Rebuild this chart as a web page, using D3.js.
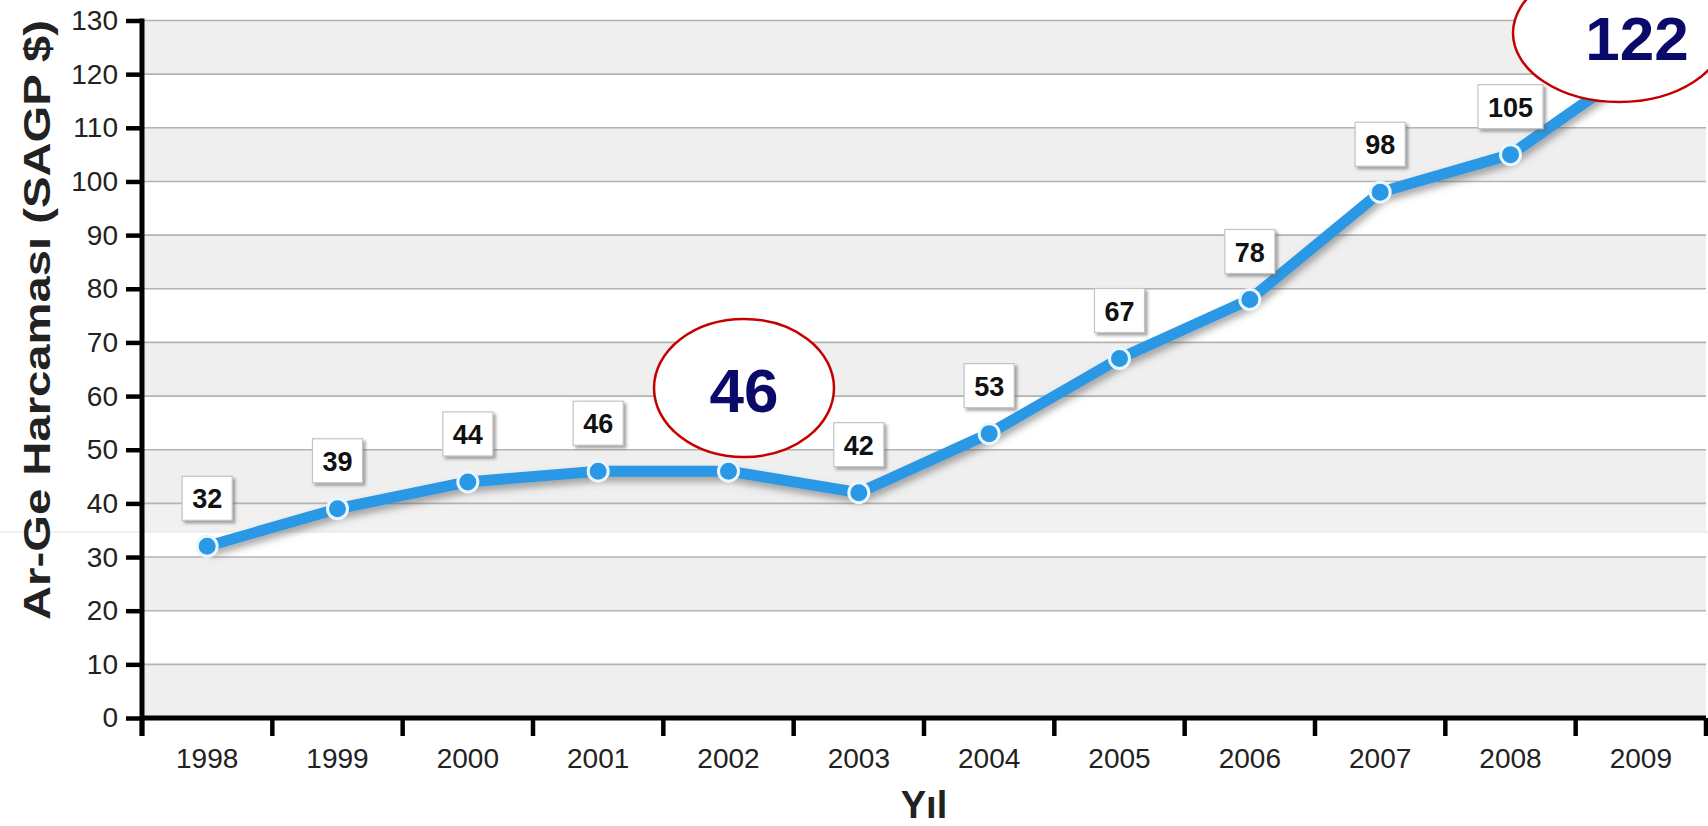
<!DOCTYPE html>
<html>
<head>
<meta charset="utf-8">
<script src="https://cdn.jsdelivr.net/npm/d3@7"></script>
<style>
  html, body { margin: 0; padding: 0; background: #fff; }
  svg { display: block; font-family: "Liberation Sans", Arial, sans-serif; }
</style>
</head>
<body>
<svg id="chart" width="1708" height="826"></svg>
<script>
// R&D spending per year (PPP $)
const years  = ["1998","1999","2000","2001","2002","2003","2004","2005","2006","2007","2008","2009"];
const values = [32, 39, 44, 46, 46, 42, 53, 67, 78, 98, 105, 122];
const yTicks = [0,10,20,30,40,50,60,70,80,90,100,110,120,130];
// years called out with a large oval instead of a small box
const highlighted = ["2002", "2009"];

const svg = d3.select("#chart");
const W = 1708, H = 826;

const x = d3.scaleBand().domain(years).range([142, 1706]).paddingInner(0).paddingOuter(0);
const y = d3.scaleLinear().domain([0, 130]).range([718, 20.5]);
const cx = d => x(d) + x.bandwidth() / 2;

const defs = svg.append("defs");
const lineShadow = defs.append("filter").attr("id", "lineShadow")
  .attr("x", "-5%").attr("y", "-20%").attr("width", "110%").attr("height", "140%");
lineShadow.append("feDropShadow").attr("dx", 2).attr("dy", 5).attr("stdDeviation", 3.5)
  .attr("flood-color", "#555").attr("flood-opacity", 0.5);
const boxShadow = defs.append("filter").attr("id", "boxShadow")
  .attr("x", "-20%").attr("y", "-20%").attr("width", "150%").attr("height", "150%");
boxShadow.append("feDropShadow").attr("dx", 2.5).attr("dy", 2.5).attr("stdDeviation", 1.8)
  .attr("flood-color", "#666").attr("flood-opacity", 0.6);

// alternating background bands
const bandStarts = d3.range(0, 130, 10);
svg.append("g").selectAll("rect").data(bandStarts.filter(v => (v / 10) % 2 === 0)).join("rect")
  .attr("x", x.range()[0]).attr("width", x.range()[1] - x.range()[0])
  .attr("y", d => y(d + 10)).attr("height", d => y(d) - y(d + 10))
  .attr("fill", "#efefef");
// lighter strip under the 40 line
svg.append("rect")
  .attr("x", x.range()[0]).attr("width", x.range()[1] - x.range()[0])
  .attr("y", y(40)).attr("height", 532 - y(40)).attr("fill", "#f1f1f1");
svg.append("line").attr("x1", 0).attr("x2", W).attr("y1", 532).attr("y2", 532)
  .attr("stroke", "#e4e4e4").attr("stroke-width", 1);

// horizontal gridlines
svg.append("g").selectAll("line").data(yTicks).join("line")
  .attr("x1", x.range()[0]).attr("x2", x.range()[1])
  .attr("y1", d => y(d)).attr("y2", d => y(d))
  .attr("stroke", "#b3b3b3").attr("stroke-width", 1.6);

// y axis
const yAxis = svg.append("g").attr("transform", `translate(${x.range()[0]},0)`)
  .call(d3.axisLeft(y).tickValues(yTicks).tickSize(16).tickPadding(8));
yAxis.select(".domain").remove();
yAxis.selectAll(".tick line").attr("stroke", "#000").attr("stroke-width", 4.5);
yAxis.selectAll(".tick text").attr("fill", "#222").style("font-size", "28px")
  .style("font-family", '"Liberation Sans", Arial, sans-serif');
svg.append("line").attr("x1", x.range()[0]).attr("x2", x.range()[0])
  .attr("y1", y(130) - 2).attr("y2", 736).attr("stroke", "#000").attr("stroke-width", 5);

// x axis
const xAxis = svg.append("g").attr("transform", `translate(0,${y(0)})`)
  .call(d3.axisBottom(x).tickSize(0).tickPadding(30));
xAxis.select(".domain").remove();
xAxis.selectAll(".tick text").attr("fill", "#222").style("font-size", "28px")
  .style("font-family", '"Liberation Sans", Arial, sans-serif');
svg.append("line").attr("x1", x.range()[0]).attr("x2", x.range()[1])
  .attr("y1", y(0)).attr("y2", y(0)).attr("stroke", "#000").attr("stroke-width", 5);
const boundaries = d3.range(0, years.length + 1).map(i => x.range()[0] + i * x.step());
svg.append("g").selectAll("line").data(boundaries).join("line")
  .attr("x1", d => d).attr("x2", d => d).attr("y1", y(0)).attr("y2", 736)
  .attr("stroke", "#000").attr("stroke-width", 4.5);

// axis titles
svg.append("text").attr("x", (x.range()[0] + x.range()[1]) / 2).attr("y", 818)
  .attr("text-anchor", "middle").attr("font-weight", "bold").attr("font-size", 38)
  .attr("fill", "#222").text("Yıl");
svg.append("text").attr("transform", "translate(50,320) rotate(-90)")
  .attr("text-anchor", "middle").attr("font-weight", "bold").attr("font-size", 36)
  .attr("textLength", 600).attr("lengthAdjust", "spacingAndGlyphs")
  .attr("fill", "#222").text("Ar-Ge Harcaması (SAGP $)");

// data line with points
const data = years.map((yr, i) => ({ yr, v: values[i] }));
const line = d3.line().x(d => cx(d.yr)).y(d => y(d.v));
svg.append("path").datum(data).attr("d", line)
  .attr("fill", "none").attr("stroke", "#2a98e4").attr("stroke-width", 11)
  .attr("stroke-linejoin", "round").attr("filter", "url(#lineShadow)");
svg.append("g").selectAll("circle").data(data).join("circle")
  .attr("cx", d => cx(d.yr)).attr("cy", d => y(d.v)).attr("r", 10)
  .attr("fill", "#2a98e4").attr("stroke", "#eaf7ff").attr("stroke-width", 3);

// value boxes
const boxes = svg.append("g").selectAll("g").data(data.filter(d => !highlighted.includes(d.yr))).join("g")
  .attr("transform", d => `translate(${cx(d.yr)},${y(d.v) - 48})`);
boxes.append("rect").attr("fill", "#fff").attr("stroke", "#c4c4c4")
  .attr("stroke-width", 1.2).attr("filter", "url(#boxShadow)");
const boxText = boxes.append("text").attr("text-anchor", "middle").attr("y", 10)
  .attr("font-weight", "bold").attr("font-size", 27).attr("fill", "#111").text(d => d.v);
boxText.each(function () {
  const w = this.getComputedTextLength() + 20;
  d3.select(this.parentNode).select("rect")
    .attr("x", -w / 2).attr("width", w).attr("y", -22).attr("height", 44);
});

// large oval callouts
const callouts = [
  { yr: "2002", cx: 744, cy: 388, rx: 90, ry: 69, tx: 744, ty: 412 },
  { yr: "2009", cx: 1619, cy: 33, rx: 106, ry: 69, tx: 1637, ty: 60 }
];
const calloutG = svg.append("g").selectAll("g").data(callouts).join("g");
calloutG.append("ellipse")
  .attr("cx", d => d.cx).attr("cy", d => d.cy).attr("rx", d => d.rx).attr("ry", d => d.ry)
  .attr("fill", "#fff").attr("stroke", "#c40000").attr("stroke-width", 2.5);
calloutG.append("text").attr("x", d => d.tx).attr("y", d => d.ty)
  .attr("text-anchor", "middle").attr("font-weight", "bold").attr("font-size", 62)
  .attr("fill", "#0a0a6b").text(d => values[years.indexOf(d.yr)]);
</script>
</body>
</html>
